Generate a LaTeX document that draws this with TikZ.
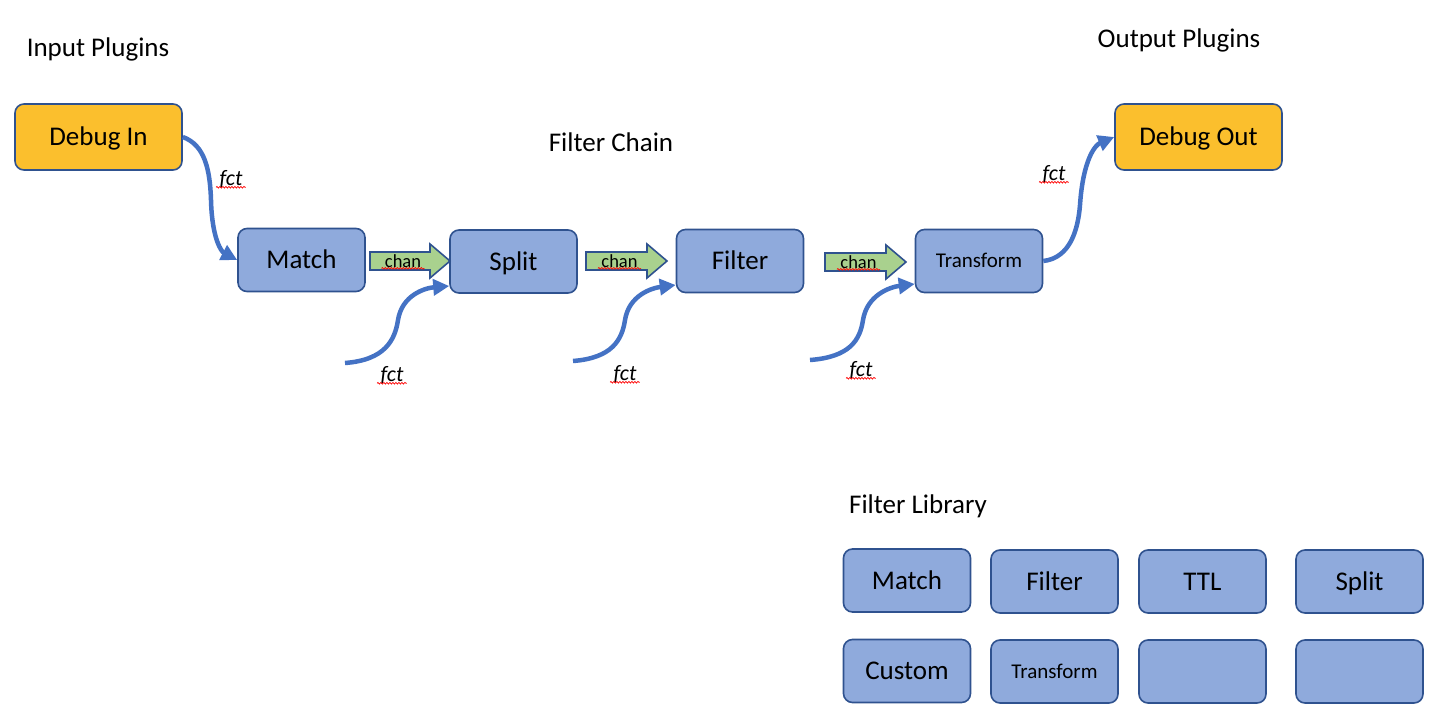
\documentclass[tikz,border=0pt]{standalone}
\usepackage{fontspec}
\setmainfont{Carlito}
\usetikzlibrary{arrows.meta,decorations.pathmorphing}

\definecolor{plugin}{HTML}{FBBF2D}
\definecolor{filterbox}{HTML}{8FAADC}
\definecolor{edge}{HTML}{2F528F}
\definecolor{wire}{HTML}{4472C4}
\definecolor{chanfill}{HTML}{A9D18E}

\tikzset{
  box/.style={draw=edge,line width=1.6pt,rounded corners=9pt,fill=filterbox,
    minimum width=127pt,minimum height=63pt,inner sep=0pt,
    text height=17pt,text depth=0pt,font=\fontsize{27}{30}\selectfont},
  small/.style={font=\fontsize{21}{24}\selectfont,text height=13pt},
  plugin/.style={box,fill=plugin,minimum width=167pt,minimum height=66pt},
  title/.style={font=\fontsize{27}{30}\selectfont},
  fctline/.style={draw=wire,line width=4.5pt,-{Triangle[length=16pt,width=16pt]}},
  fcttext/.style={font=\itshape\fontsize{22}{24}\selectfont},
  squiggle/.style={draw=red,line width=0.7pt,decorate,
    decoration={snake,amplitude=0.8pt,segment length=3pt}},
}

\newcommand{\chanarrow}[4]{% name, x start, x end, y
  \draw[edge,line width=1.6pt,fill=chanfill]
    (#2,#4-9) -- (#3-20,#4-9) -- (#3-20,#4-17) -- (#3,#4) -- (#3-20,#4+17)
    -- (#3-20,#4+9) -- (#2,#4+9) -- cycle;
  \node[font=\fontsize{18.5}{20}\selectfont] (#1) at ({(#2+#3-20)/2+3},#4) {chan};
  \draw[squiggle] ([yshift=-1pt]#1.base west) -- ([yshift=-1pt]#1.base east);
}
\newcommand{\fct}[2]{% name, position
  \node[fcttext] (#1) at #2 {fct};
  \draw[squiggle] ([yshift=-2pt]#1.base west) -- ([yshift=-2pt]#1.base east);
}

\begin{document}
\begin{tikzpicture}[x=1pt,y=-1pt]
\useasboundingbox (0,0) rectangle (1441,715);

% titles
\node[title] (tin) at (98,49) {Input Plugins};
\node[title] (tchain) at (611,142) {Filter Chain};
\node[title] (tout) at (1179,40) {Output Plugins};
\node[title] (tlib) at (918,506) {Filter Library};

% plugins
\node[plugin] (debugin) at (98.5,137) {Debug In};
\node[plugin] (debugout) at (1198.5,137) {Debug Out};

% filter chain
\node[box] (match) at (301.5,260) {Match};
\node[box] (split) at (513.5,261.5) {Split};
\node[box] (filter) at (740,261) {Filter};
\node[box,small] (transform) at (979,261) {Transform};

\chanarrow{chan1}{370}{450}{261}
\chanarrow{chan2}{586}{667}{261}
\chanarrow{chan3}{825}{906}{262}

% fct wires
\coordinate (f1) at (345,363);
\coordinate (f2) at (573,361);
\coordinate (f3) at (810,360);

\draw[fctline] (debugin.east) .. controls (205,145) and (210,170) .. (211,200)
  .. controls (212,240) and (222,252) .. (match.west);
\draw[fctline] (f1) .. controls (385,360) and (395,340) .. (398,320)
  .. controls (402,295) and (425,288) .. (split.south west |- 0,286);
\draw[fctline] (f2) .. controls (612,358) and (622,340) .. (625,320)
  .. controls (629,295) and (652,288) .. (filter.south west |- 0,285);
\draw[fctline] (f3) .. controls (850,357) and (860,340) .. (863,320)
  .. controls (867,295) and (890,287) .. (transform.south west |- 0,284);
\draw[fctline] (transform.east) .. controls (1070,258) and (1078,230) .. (1080,205)
  .. controls (1083,160) and (1095,145) .. (debugout.west);

\fct{fct1}{(231,179)}
\fct{fct2}{(392,375)}
\fct{fct3}{(625,374)}
\fct{fct4}{(861,370)}
\fct{fct5}{(1054,174)}

% filter library
\node[box] (lmatch) at (907,580.5) {Match};
\node[box] (lfilter) at (1054.5,581.5) {Filter};
\node[box] (lttl) at (1202.5,581.5) {TTL};
\node[box] (lsplit) at (1359.5,581.5) {Split};
\node[box] (lcustom) at (907,671) {Custom};
\node[box,small] (ltransform) at (1054.5,671.5) {Transform};
\node[box] (lempty1) at (1202.5,671.5) {};
\node[box] (lempty2) at (1359.5,671.5) {};

\end{tikzpicture}
\end{document}
